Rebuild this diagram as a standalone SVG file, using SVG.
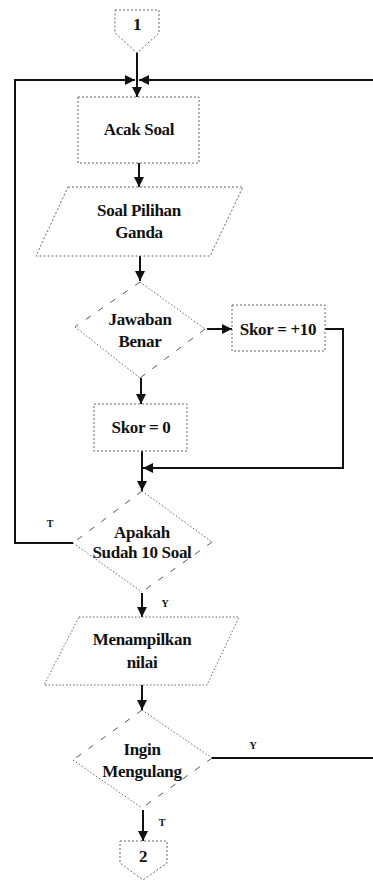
<svg xmlns="http://www.w3.org/2000/svg" width="373" height="882" viewBox="0 0 373 882">
<style>
.t{font-family:"Liberation Serif","Times New Roman",serif;font-weight:bold;font-size:17px;letter-spacing:-0.3px;fill:#111;text-anchor:middle}
.s{font-family:"Liberation Serif","Times New Roman",serif;font-weight:bold;font-size:10px;fill:#111;text-anchor:middle}
.box{fill:none;stroke:#666;stroke-width:1;stroke-dasharray:2 2}
.dash{fill:none;stroke:#555;stroke-width:1;stroke-dasharray:6 9}
.dot{fill:none;stroke:#666;stroke-width:1;stroke-dasharray:1.5 2}
.ln{fill:none;stroke:#111;stroke-width:2}
</style>
<defs>
<marker id="ah" viewBox="0 0 10 10" refX="10" refY="5" markerWidth="5" markerHeight="5" orient="auto" markerUnits="strokeWidth">
<path d="M0,0 L10,5 L0,10 Z" fill="#111"/>
</marker>
</defs>
<rect width="373" height="882" fill="#fff"/>
<g id="connectors">
<line class="ln" x1="137" y1="53" x2="137" y2="97" marker-end="url(#ah)"/>
<line class="ln" x1="373" y1="80" x2="139" y2="80" marker-end="url(#ah)"/>
<polyline class="ln" points="73,543 15,543 15,80 135,80" marker-end="url(#ah)"/>
<line class="ln" x1="139" y1="163" x2="139" y2="187" marker-end="url(#ah)"/>
<line class="ln" x1="140" y1="256" x2="140" y2="281" marker-end="url(#ah)"/>
<line class="ln" x1="207" y1="329" x2="232" y2="329" marker-end="url(#ah)"/>
<line class="ln" x1="141" y1="378" x2="141" y2="404" marker-end="url(#ah)"/>
<polyline class="ln" points="325,329 343,329 343,468 143,468" marker-end="url(#ah)"/>
<line class="ln" x1="142" y1="451" x2="142" y2="491" marker-end="url(#ah)"/>
<line class="ln" x1="142" y1="593" x2="142" y2="617" marker-end="url(#ah)"/>
<line class="ln" x1="142" y1="685" x2="142" y2="710" marker-end="url(#ah)"/>
<line class="ln" x1="212" y1="758" x2="373" y2="758"/>
<line class="ln" x1="143" y1="810" x2="143" y2="841" marker-end="url(#ah)"/>
<text class="s" x="50" y="527">T</text>
<text class="s" x="165" y="607">Y</text>
<text class="s" x="253" y="749">Y</text>
<text class="s" x="162" y="826">T</text>
</g>
<g id="start1">
<path class="box" d="M115,10 L159,10 L159,33 L137,53 L115,33 Z"/>
<text class="t" x="137" y="30" font-size="13">1</text>
</g>
<g id="acak">
<rect class="box" x="78" y="97" width="121" height="66"/>
<text class="t" x="139" y="135">Acak Soal</text>
</g>
<g id="soal">
<path class="box" d="M68,187 L243,187 L210,256 L36,256 Z"/>
<text class="t" x="139" y="216">Soal Pilihan</text>
<text class="t" x="139" y="238">Ganda</text>
</g>
<g id="jawaban">
<path class="dash" d="M140,282 L75,327 M205,329 L140,378"/>
<path class="dot" d="M140,282 L205,329 M75,327 L140,378"/>
<text class="t" x="140" y="325">Jawaban</text>
<text class="t" x="140" y="347">Benar</text>
</g>
<g id="skor10">
<rect class="box" x="232" y="305" width="93" height="46"/>
<text class="t" x="278" y="335">Skor = +10</text>
</g>
<g id="skor0">
<rect class="box" x="94" y="404" width="93" height="47"/>
<text class="t" x="141" y="433">Skor = 0</text>
</g>
<g id="apakah">
<path class="dash" d="M142,491 L73,543 M212,542 L142,592"/>
<path class="dot" d="M142,491 L212,542 M73,543 L142,592"/>
<text class="t" x="142" y="538">Apakah</text>
<text class="t" x="142" y="558">Sudah 10 Soal</text>
</g>
<g id="nilai">
<path class="dot" d="M79,617 L239,617 L207,685 L44,685 Z"/>
<text class="t" x="142" y="645">Menampilkan</text>
<text class="t" x="142" y="668">nilai</text>
</g>
<g id="ulang">
<path class="dash" d="M142,710 L73,760 M212,758 L142,808"/>
<path class="dot" d="M142,710 L212,758 M73,760 L142,808"/>
<text class="t" x="142" y="755">Ingin</text>
<text class="t" x="142" y="777">Mengulang</text>
</g>
<g id="end2">
<path class="box" d="M120,841 L167,841 L167,863 L143,880 L120,863 Z"/>
<text class="t" x="143" y="862" font-size="13">2</text>
</g>
</svg>
